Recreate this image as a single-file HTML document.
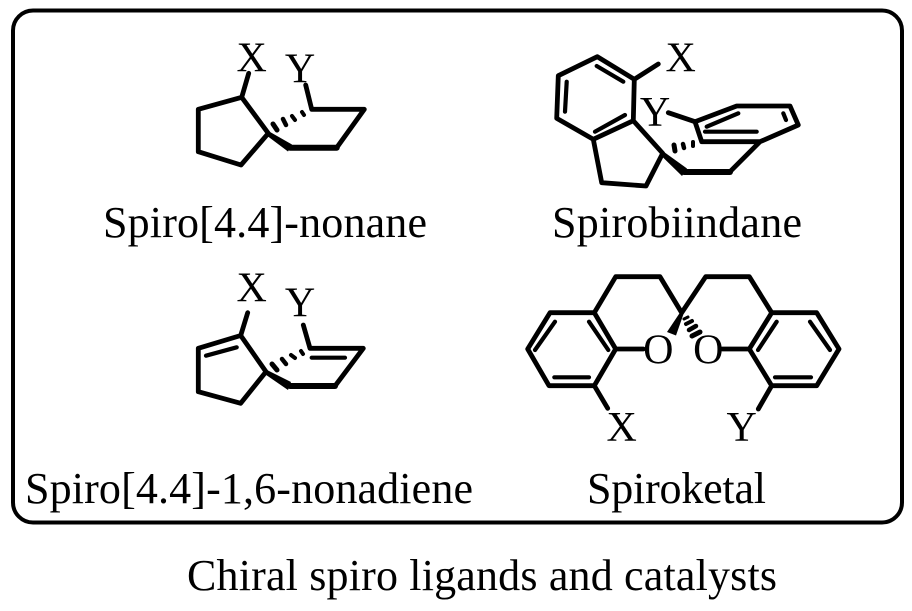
<!DOCTYPE html>
<html><head><meta charset="utf-8"><style>
html,body{margin:0;padding:0;background:#fff}
svg{display:block}
text{font-family:"Liberation Serif",serif;fill:#000}
.a{font-size:42px;text-anchor:middle}
.l{font-size:44px}
.b{fill:none;stroke:#000;stroke-width:4.8;stroke-linejoin:round;stroke-linecap:round}
.t{fill:none;stroke:#000;stroke-width:6;stroke-linecap:round}
.i{fill:none;stroke:#000;stroke-width:4.2;stroke-linecap:round}
</style></head><body>
<svg width="912" height="611" viewBox="0 0 912 611" xmlns="http://www.w3.org/2000/svg">
<rect x="0" y="0" width="912" height="611" fill="#fff"/>
<rect x="13" y="10.500" width="889" height="512" rx="20" ry="20" fill="none" stroke="#000" stroke-width="4"/>

<!-- Structure 1 -->
<path class="b" d="M248.700 73.300L241.700 97.300L198.300 109.300V151.700L241 165L268.300 133.300L241.700 97.300"/>
<path class="b" d="M336.700 147.700L364.300 109.300H311.700L305.700 85"/>
<path class="t" d="M290 147.700H336.700"/>
<polygon points="268.300,131 292,144.500 288,151.500 266,135" fill="#000"/>
<g stroke="#000" stroke-linecap="round"><path stroke-width="5" d="M273 124L277 130"/><path stroke-width="4.500" d="M283 119L286 125"/><path stroke-width="4" d="M292 116L295 120"/><path stroke-width="4" d="M302 112L304 115"/></g>
<text class="a" x="251.700" y="71.700">X</text>
<text class="a" x="300" y="82.700">Y</text>
<text class="l" x="103" y="237" textLength="324" lengthAdjust="spacing">Spiro[4.4]-nonane</text>

<!-- Structure 2 -->
<path class="b" d="M597.300 56.700L634.300 79.300L633.300 120.700L593.300 139.300L556.700 118.300L558.300 75.700ZM634.300 79.300L658.300 64M593.300 139.300L601.700 182.700L646 186L662.700 153.300L633.300 120.700"/>
<path class="b" d="M730 171.700L760 141.700H701.700L695 121.700L736.700 106H790L798.300 125L760 141.700M668.300 112.700L695 121.700"/>
<path class="t" d="M684 172H730"/>
<polygon points="662.700,151 687,168.500 682,176 661,155.500" fill="#000"/>
<path class="i" d="M596.700 66L623.300 81.700M625 115L595 131.700M566.700 81.700L565 111.700M706.700 126.700L738.300 113.300M705 131.700H756.700M783.300 113.300L786 120"/>
<g stroke="#000" stroke-linecap="round"><path stroke-width="5" d="M674 145L675 151"/><path stroke-width="4.500" d="M683 144L684 148"/><path stroke-width="4" d="M693 142L693 146"/></g>
<text class="a" x="680.700" y="71.700">X</text>
<text class="a" x="655" y="126">Y</text>
<text class="l" x="552" y="237" textLength="250" lengthAdjust="spacing">Spirobiindane</text>

<!-- Structure 3 -->
<path class="b" d="M247.700 312.700L240.700 335.500L198.300 348.300V391.700L240.700 403.300L266 371.700L240.700 335.500"/>
<path class="b" d="M335 386L363.300 348.300H310L303.300 325"/>
<path class="t" d="M290 386H335"/>
<polygon points="266,369.500 291,382 288,390 264,373.500" fill="#000"/>
<path class="i" d="M206 355.700L236.700 347.300M311.700 357.700H345"/>
<g stroke="#000" stroke-linecap="round"><path stroke-width="5" d="M272 364L277 370"/><path stroke-width="4.500" d="M282 359L286 364"/><path stroke-width="4" d="M291 355L295 358"/><path stroke-width="4" d="M301 351L303 354"/></g>
<text class="a" x="251.700" y="301.700">X</text>
<text class="a" x="300" y="316.700">Y</text>
<text class="l" x="25" y="503" textLength="448" lengthAdjust="spacing">Spiro[4.4]-1,6-nonadiene</text>

<!-- Structure 4 -->
<path class="b" d="M550 312.700H594.300L615.700 349L594.300 385.700H549L527.700 349ZM594.300 312.700L615.700 276.700H660L681.700 312.700L705.700 276.700H749.300L771.700 312.700M771.700 312.700H816.700L839 349L816.700 385.700H771.700L749.300 349ZM615.700 349H643.300M749.300 349H722.300M594.300 385.700L607.700 408.300M771.700 385.700L758.300 409"/>
<path class="i" d="M555 321.700L535 350M589 321.700L608.300 350M554.300 377.300H589M776.700 321.700L758 350M810 321.700L830 350M775 377.300H811"/>
<polygon points="681.700,310 683.500,314 676,335.500 667,332" fill="#000"/>
<g stroke="#000" stroke-linecap="round"><path stroke-width="3" d="M684 319L688 317"/><path stroke-width="4" d="M686 324L692 321"/><path stroke-width="4.500" d="M689 330L696 326"/><path stroke-width="5" d="M692 336L700 332"/></g>
<text class="a" x="658.300" y="363.300">O</text>
<text class="a" x="708.300" y="363.300">O</text>
<text class="a" x="621.700" y="441">X</text>
<text class="a" x="741.700" y="441">Y</text>
<text class="l" x="587" y="503" textLength="179" lengthAdjust="spacing">Spiroketal</text>

<text class="l" x="187" y="590" textLength="590" lengthAdjust="spacing">Chiral spiro ligands and catalysts</text>
</svg>
</body></html>
